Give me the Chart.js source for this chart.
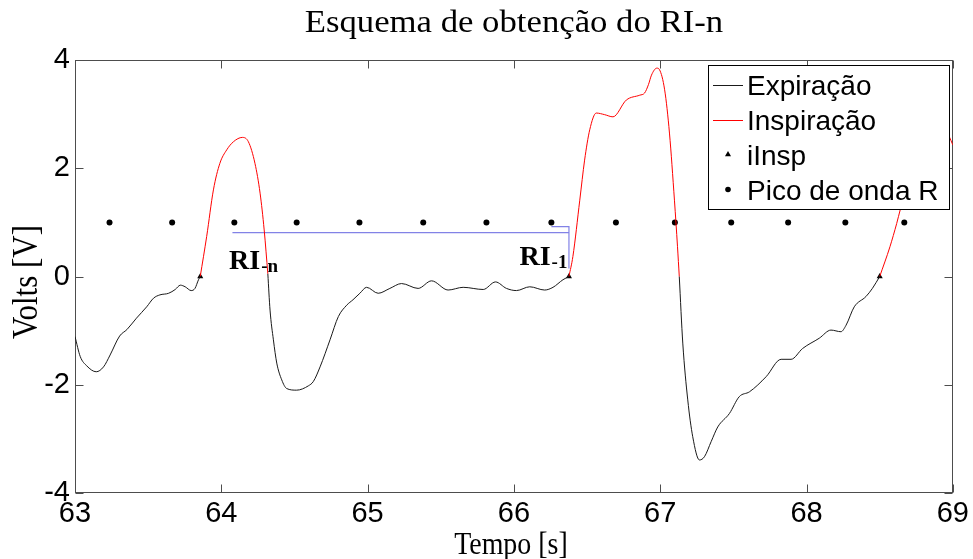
<!DOCTYPE html>
<html lang="pt">
<head>
<meta charset="utf-8">
<title>Esquema de obtenção do RI-n</title>
<script src="https://cdn.jsdelivr.net/npm/chart.js@4.4.1/dist/chart.umd.min.js"></script>
<style>
    html, body { margin: 0; padding: 0; background: #fff; }
    canvas { display: block; }
</style>
</head>
<body>
<canvas id="riChart" width="973" height="559"></canvas>
<script>

/* ================================
   DADOS
================================ */

// sinal respiratório (tempo em s, tensão em V)
const tempo = [
    63.000, 63.036, 63.080, 63.145, 63.195, 63.240, 63.305, 63.355, 63.420, 63.490,
    63.537, 63.580, 63.640, 63.685, 63.720, 63.753, 63.794, 63.820, 63.844, 63.856,
    63.900, 63.946, 63.990, 64.037, 64.083, 64.144, 64.185, 64.230, 64.265, 64.293,
    64.318, 64.333, 64.356, 64.379, 64.413, 64.447, 64.515, 64.595, 64.629, 64.675,
    64.743, 64.800, 64.857, 64.900, 64.947, 64.993, 65.072, 65.152, 65.232, 65.345,
    65.437, 65.550, 65.653, 65.790, 65.874, 65.949, 66.017, 66.108, 66.210, 66.267,
    66.335, 66.376, 66.403, 66.450, 66.483, 66.518, 66.563, 66.620, 66.677, 66.768,
    66.860, 66.893, 66.920, 66.940, 66.977, 66.995, 67.030, 67.063, 67.097, 67.118,
    67.130, 67.154, 67.188, 67.222, 67.268, 67.302, 67.348, 67.393, 67.473, 67.540,
    67.610, 67.724, 67.826, 67.894, 67.973, 68.087, 68.167, 68.235, 68.270, 68.326,
    68.406, 68.450, 68.500, 68.570, 68.616, 68.640, 68.720, 68.800, 68.880, 68.940,
    68.976, 69.000
];

const volts = [
    -1.11, -1.48, -1.65, -1.76, -1.67, -1.45, -1.10, -0.98, -0.77, -0.56,
    -0.40, -0.34, -0.31, -0.24, -0.16, -0.19, -0.26, -0.22, -0.06,  0.00,
     0.74,  1.60,  2.09,  2.34,  2.49,  2.57,  2.49,  2.09,  1.54,  0.86,
     0.05, -0.62, -1.17, -1.60, -1.91, -2.07, -2.10, -2.02, -1.94, -1.67,
    -1.17, -0.74, -0.53, -0.43, -0.31, -0.20, -0.31, -0.22, -0.13, -0.22,
    -0.08, -0.25, -0.20, -0.24, -0.10, -0.22, -0.26, -0.19, -0.25, -0.20,
    -0.06,  0.00,  0.37,  1.41,  2.15,  2.71,  3.02,  2.99,  2.95,  3.26,
     3.35,  3.39,  3.55,  3.72,  3.85,  3.82,  3.45,  2.65,  1.41,  0.55,
     0.00, -1.23, -2.28, -2.96, -3.39, -3.33, -3.05, -2.78, -2.53, -2.22,
    -2.13, -1.85, -1.53, -1.53, -1.33, -1.14, -0.99, -1.02, -0.90, -0.56,
    -0.37, -0.22,  0.00,  0.55,  0.98,  1.23,  1.95,  2.50,  2.80,  2.78,
     2.58,  2.43
];

// intervalos de inspiração (início = iInsp)
const inicioInsp = [63.856, 66.376, 68.500];
const fimInsp = [64.318, 67.130, 69.000];
const iInspVolts = [0, 0, 0];

// picos da onda R do ECG
const picosRTempo = [
    63.236, 63.664, 64.089, 64.515, 64.944, 65.380, 65.812,
    66.256, 66.697, 67.100, 67.485, 67.874, 68.265, 68.668
];
const picosRVolts = [1, 1, 1, 1, 1, 1, 1, 1, 1, 1, 1, 1, 1, 1];

// marcação do RI entre RI-n e RI-1 (null = interrupção)
const marcaRITempo = [64.076, 66.376, 66.376, 66.256, 66.376, 66.376];
const marcaRIVolts = [0.81, 0.81, null, 0.92, 0.92, 0.15];

const ticksTempo = [63, 64, 65, 66, 67, 68, 69];
const ticksVolts = [-4, -2, 0, 2, 4];


/* ================================
   SEPARAÇÃO EXPIRAÇÃO / INSPIRAÇÃO
================================ */

function emInspiracao(t, incluirBordas){
    for(let i=0;i<inicioInsp.length;i++){
        if(incluirBordas){
            if(t>=inicioInsp[i] && t<=fimInsp[i]) return true;
        }else{
            if(t>inicioInsp[i] && t<fimInsp[i]) return true;
        }
    }
    return false;
}

const pontosExpiracao = tempo.map((t,i)=>({
    x:t,
    y: emInspiracao(t,false) ? null : volts[i]
}));

const pontosInspiracao = tempo.map((t,i)=>({
    x:t,
    y: emInspiracao(t,true) ? volts[i] : null
}));

const pontosIInsp = inicioInsp.map((t,i)=>({x:t, y:iInspVolts[i]}));
const pontosPicoR = picosRTempo.map((t,i)=>({x:t, y:picosRVolts[i]}));
const pontosMarca = marcaRITempo.map((t,i)=>({x:t, y:marcaRIVolts[i]}));


/* ================================
   DESENHO AUXILIAR
================================ */

const corEixo = "#4d4d4d";
const fonteSerif = '"Liberation Serif", "Times New Roman", serif';
const fonteSans = '"Liberation Sans", Arial, sans-serif';

// caixa dos eixos com ticks para dentro, nos quatro lados
const molduraEixos = {
    id:"molduraEixos",
    beforeDatasetsDraw(chart){
        const {ctx, chartArea:a, scales} = chart;
        const L=Math.round(a.left)+0.5, R=Math.round(a.right)-0.5;
        const T=Math.round(a.top)+0.5, B=Math.round(a.bottom)-0.5;
        const tam=8;

        ctx.save();
        ctx.strokeStyle=corEixo;
        ctx.lineWidth=1;
        ctx.strokeRect(L,T,R-L,B-T);

        ctx.beginPath();
        ticksTempo.forEach(v=>{
            const px=Math.round(scales.x.getPixelForValue(v))+0.5;
            ctx.moveTo(px,B); ctx.lineTo(px,B-tam);
            ctx.moveTo(px,T); ctx.lineTo(px,T+tam);
        });
        ticksVolts.forEach(v=>{
            const py=Math.round(scales.y.getPixelForValue(v))+0.5;
            ctx.moveTo(L,py); ctx.lineTo(L+tam,py);
            ctx.moveTo(R,py); ctx.lineTo(R-tam,py);
        });
        ctx.stroke();
        ctx.restore();
    }
};

// rótulos RI-n e RI-1, legenda em caixa
const anotacoes = {
    id:"anotacoes",
    afterDatasetsDraw(chart){
        const {ctx, scales} = chart;

        function rotuloRI(t, v, indice){
            const x=scales.x.getPixelForValue(t);
            const y=scales.y.getPixelForValue(v);
            ctx.fillStyle="#000";
            ctx.textAlign="left";
            ctx.textBaseline="alphabetic";
            ctx.font="bold 28px "+fonteSerif;
            ctx.fillText("RI",x,y);
            const w=ctx.measureText("RI").width;
            ctx.font="bold 19px "+fonteSerif;
            ctx.fillText(indice,x+w+1,y+2.5);
        }

        ctx.save();
        rotuloRI(64.053,0.133,"-n");
        rotuloRI(66.038,0.212,"-1");

        // legenda
        const bx=708.5, by=65.5, bw=241, bh=144;
        ctx.fillStyle="#fff";
        ctx.fillRect(bx,by,bw,bh);
        ctx.strokeStyle="#000";
        ctx.lineWidth=1;
        ctx.strokeRect(bx,by,bw,bh);

        const itens=chart.data.datasets.filter(d=>d.label);
        itens.forEach((d,i)=>{
            const base=95+i*35;
            const meio=base-10.5;
            if(d.showLine!==false){
                ctx.strokeStyle=d.borderColor;
                ctx.lineWidth=1;
                ctx.beginPath();
                ctx.moveTo(713,Math.round(meio)+0.5);
                ctx.lineTo(743,Math.round(meio)+0.5);
                ctx.stroke();
            }else{
                ctx.fillStyle="#000";
                ctx.beginPath();
                if(d.pointStyle==="triangle"){
                    const r=3.5;
                    ctx.moveTo(728,meio-r);
                    ctx.lineTo(728+r*0.866,meio+r*0.5);
                    ctx.lineTo(728-r*0.866,meio+r*0.5);
                    ctx.closePath();
                }else{
                    ctx.arc(728,meio,2.8,0,Math.PI*2);
                }
                ctx.fill();
            }
            ctx.fillStyle="#000";
            ctx.font="28px "+fonteSans;
            ctx.textAlign="left";
            ctx.textBaseline="alphabetic";
            ctx.fillText(d.label,747,base);
        });
        ctx.restore();
    }
};

// título e nomes dos eixos (fonte serifada com largura ajustada)
const titulos = {
    id:"titulos",
    afterDraw(chart){
        const {ctx, chartArea:a} = chart;
        const cx=(a.left+a.right)/2;

        ctx.save();
        ctx.fillStyle="#000";
        ctx.textAlign="center";
        ctx.textBaseline="alphabetic";

        ctx.save();
        ctx.translate(cx,32);
        ctx.scale(1.12,1);
        ctx.font="31px "+fonteSerif;
        ctx.fillText("Esquema de obtenção do RI-n",0,0);
        ctx.restore();

        ctx.save();
        ctx.translate(cx-3,554);
        ctx.scale(0.9,1);
        ctx.font="31px "+fonteSerif;
        ctx.fillText("Tempo [s]",0,0);
        ctx.restore();

        ctx.save();
        ctx.translate(37,282);
        ctx.rotate(-Math.PI/2);
        ctx.scale(1,1.16);
        ctx.font="31px "+fonteSerif;
        ctx.fillText("Volts [V]",0,0);
        ctx.restore();

        ctx.restore();
    }
};


/* ================================
   GRÁFICO
================================ */

function desenhaGrafico(){

    const canvas=document.getElementById("riChart");

    new Chart(canvas.getContext("2d"),{

        type:"line",

        data:{
            datasets:[
                {
                    label:"Expiração",
                    data:pontosExpiracao,
                    borderColor:"#1a1a1a",
                    borderWidth:1,
                    pointRadius:0,
                    cubicInterpolationMode:"monotone",
                    spanGaps:false
                },
                {
                    label:"Inspiração",
                    data:pontosInspiracao,
                    borderColor:"#ff0000",
                    borderWidth:1,
                    pointRadius:0,
                    cubicInterpolationMode:"monotone",
                    spanGaps:false
                },
                {
                    label:"iInsp",
                    data:pontosIInsp,
                    showLine:false,
                    pointStyle:"triangle",
                    pointRadius:3.5,
                    pointBackgroundColor:"#000",
                    pointBorderWidth:0
                },
                {
                    label:"Pico de onda R",
                    data:pontosPicoR,
                    showLine:false,
                    pointStyle:"circle",
                    pointRadius:3,
                    pointBackgroundColor:"#000",
                    pointBorderWidth:0
                },
                {
                    data:pontosMarca,
                    borderColor:"#8282e6",
                    borderWidth:1.2,
                    pointRadius:0,
                    tension:0,
                    spanGaps:false
                }
            ]
        },

        options:{
            responsive:false,
            animation:false,
            devicePixelRatio:1,
            layout:{
                padding:{top:60, right:19, left:0, bottom:0}
            },
            plugins:{
                legend:{display:false},
                tooltip:{enabled:false},
                title:{display:false}
            },
            scales:{
                x:{
                    type:"linear",
                    min:63,
                    max:69,
                    grid:{display:false, drawTicks:false},
                    border:{display:false},
                    ticks:{
                        stepSize:1,
                        maxRotation:0,
                        padding:4,
                        color:"#000",
                        font:{family:fonteSans, size:29}
                    },
                    afterFit:s=>{ s.height=66; }
                },
                y:{
                    type:"linear",
                    min:-4,
                    max:4,
                    grid:{display:false, drawTicks:false},
                    border:{display:false},
                    ticks:{
                        stepSize:2,
                        padding:5,
                        color:"#000",
                        font:{family:fonteSans, size:29}
                    },
                    afterFit:s=>{ s.width=75; }
                }
            }
        },

        plugins:[molduraEixos, anotacoes, titulos]

    });
}

document.addEventListener("DOMContentLoaded", desenhaGrafico);

</script>
</body>
</html>
